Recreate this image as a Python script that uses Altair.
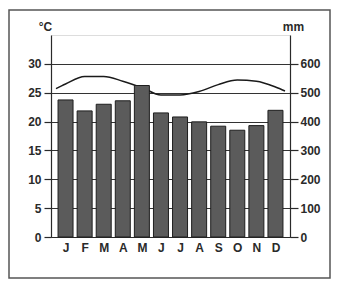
import altair as alt
import pandas as pd

months = ["J", "F", "M", "A", "M", "J", "J", "A", "S", "O", "N", "D"]
month_num = list(range(1, 13))
precip_mm = [475, 437, 460, 472, 525, 430, 416, 399, 384, 370, 386, 439]
temp_c = [26.5, 27.8, 27.8, 27.0, 25.9, 24.6, 24.6, 25.2, 26.4, 27.2, 27.0, 26.0]
# temperature line read at the left and right edges of the plot
edge_x = [0.5, 12.5]
edge_temp = [25.7, 25.3]

bars_df = pd.DataFrame({"m": month_num, "mm": precip_mm})
line_df = pd.DataFrame({
    "m": [edge_x[0]] + month_num + [edge_x[1]],
    "t": [edge_temp[0]] + temp_c + [edge_temp[1]],
})

label_expr = "[" + ",".join("'%s'" % s for s in months) + "][datum.value-1]"

FONT = "Liberation Sans"
DARK = "#2a2a2a"
FS = 12

xscale = alt.Scale(domain=[0.5, 12.5], nice=False, zero=False)
xaxis = alt.Axis(values=month_num, labelExpr=label_expr, ticks=False, grid=False,
                 title=None, labelFontWeight="bold", labelFontSize=FS,
                 labelColor=DARK, labelPadding=5, domainColor=DARK, domainWidth=1.2)

bars = alt.Chart(bars_df).mark_bar(width=15, color="#5b5b5b", stroke="#1e1e1e",
                                   strokeWidth=1).encode(
    x=alt.X("m:Q", scale=xscale, axis=xaxis),
    y=alt.Y("mm:Q", scale=alt.Scale(domain=[0, 700], nice=False),
            axis=alt.Axis(orient="right", values=[0, 100, 200, 300, 400, 500, 600],
                          grid=False, title="mm", titleAngle=0, titleX=3, titleY=-9,
                          titleAlign="center", titleBaseline="middle",
                          titleFontSize=FS, titleFontWeight="bold", titleColor=DARK,
                          labelFontWeight="bold", labelFontSize=FS, labelColor=DARK,
                          tickSize=8, tickColor=DARK, tickWidth=1.2, labelPadding=2,
                          domainColor=DARK, domainWidth=1.2)),
)

line = alt.Chart(line_df).mark_line(color="#1a1a1a", strokeWidth=1.5,
                                    interpolate="monotone").encode(
    x=alt.X("m:Q", scale=xscale, axis=xaxis),
    y=alt.Y("t:Q", scale=alt.Scale(domain=[0, 35], nice=False),
            axis=alt.Axis(orient="left", values=[0, 5, 10, 15, 20, 25, 30],
                          grid=True, gridColor="#333333", gridWidth=1.2,
                          title="°C", titleAngle=0, titleX=-6, titleY=-9,
                          titleAlign="center", titleBaseline="middle",
                          titleFontSize=FS, titleFontWeight="bold", titleColor=DARK,
                          labelFontWeight="bold", labelFontSize=FS, labelColor=DARK,
                          tickSize=7, tickColor=DARK, tickWidth=1.2, labelPadding=3,
                          domainColor=DARK, domainWidth=1.2)),
)

frame = alt.Chart(pd.DataFrame({"a": [0]})).mark_rect(
    filled=False, stroke="#555555", strokeWidth=1.5).encode(
    x=alt.value(-42), x2=alt.value(279), y=alt.value(-25), y2=alt.value(243))

chart = alt.layer(line, bars, frame).resolve_scale(y="independent").properties(
    width=239, height=202,
    autosize=alt.AutoSizeParams(type="none"),
    padding={"left": 43, "top": 27, "right": 41, "bottom": 42},
).configure_view(stroke=DARK, strokeWidth=1.2).configure(font=FONT)

chart.save("out.html", embed_options={"renderer": "svg", "actions": False})
